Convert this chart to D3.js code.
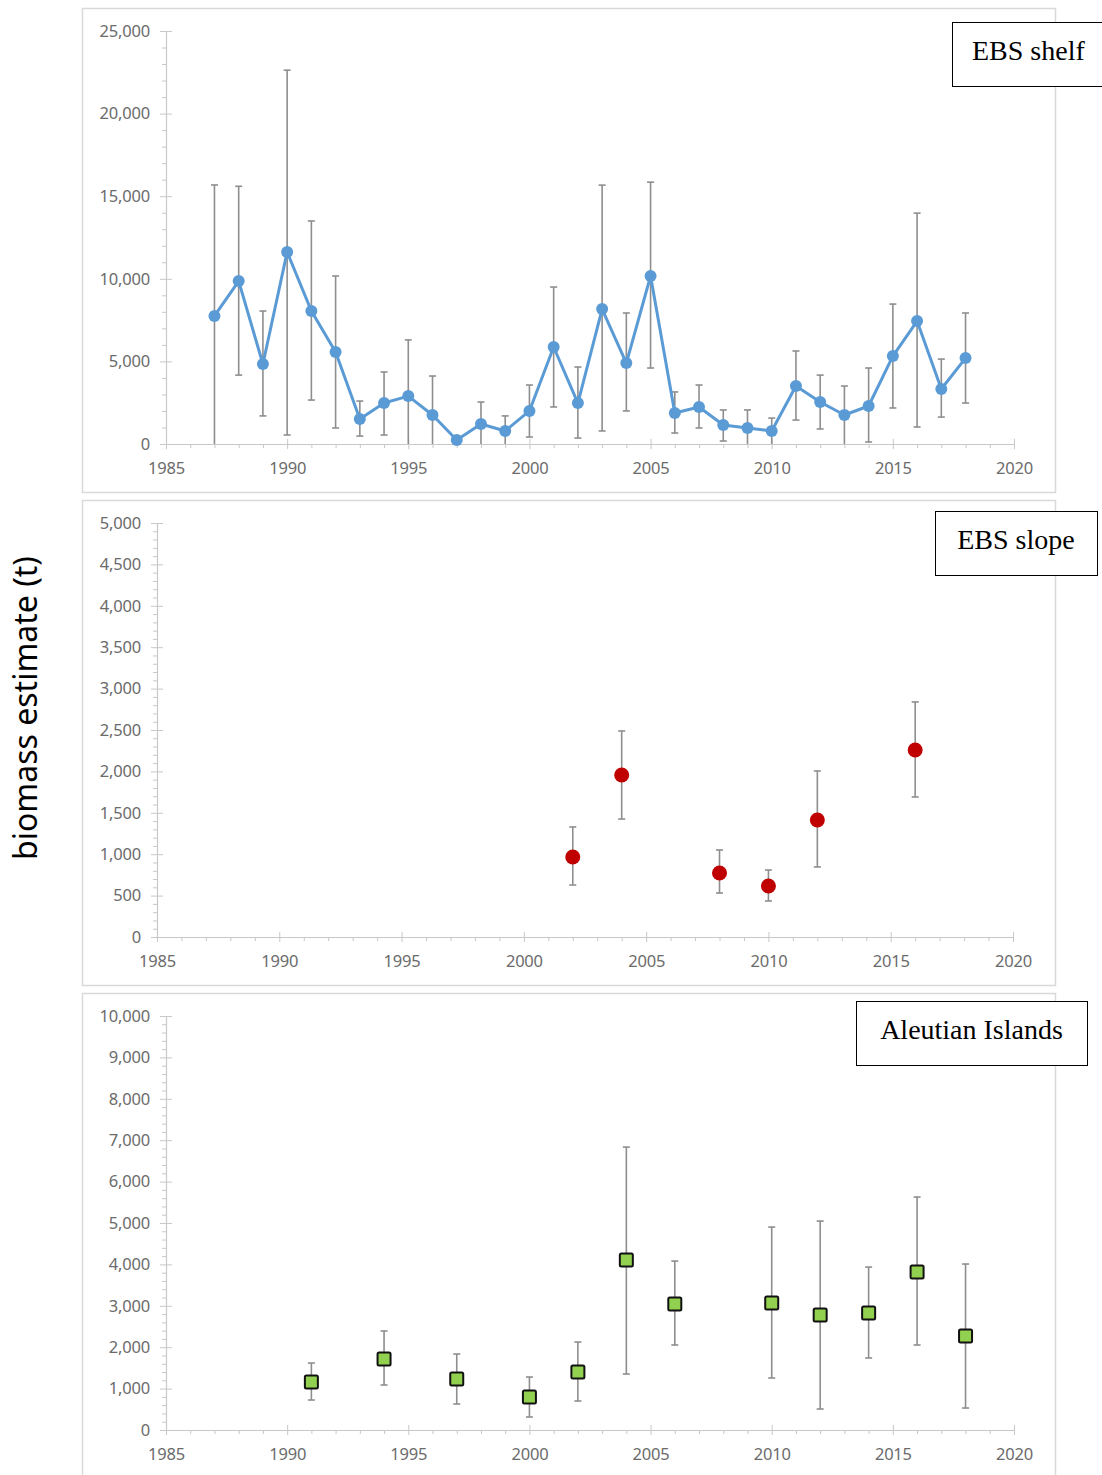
<!DOCTYPE html>
<html>
<head>
<meta charset="utf-8">
<script src="https://cdn.jsdelivr.net/npm/d3@7"></script>
<style>
  body { margin: 0; background: #fff; }
  svg { display: block; }
</style>
</head>
<body>
<div id="chart"></div>
<script>
'use strict'

// ---------- data ----------
const shelfYears = [1987, 1988, 1989, 1990, 1991, 1992, 1993, 1994, 1995, 1996, 1997, 1998, 1999, 2000, 2001, 2002,
    2003, 2004, 2005, 2006, 2007, 2008, 2009, 2010, 2011, 2012, 2013, 2014, 2015, 2016, 2017, 2018]
const shelfBiomass = [7750, 9860, 4840, 11620, 8050, 5570, 1510, 2480, 2900, 1755, 240, 1210, 790, 2000, 5870, 2480,
    8170, 4900, 10170, 1875, 2240, 1150, 970, 790, 3510, 2540, 1755, 2300, 5320, 7440, 3330, 5200]
const shelfLower = [0, 4170, 1700, 545, 2660, 970, 480, 545, 0, 0, 80, 0, 0, 420, 2240, 360,
    790, 2000, 4600, 665, 970, 180, 0, 0, 1450, 910, 0, 120, 2180, 1030, 1630, 2480]
const shelfUpper = [15680, 15600, 8050, 22630, 13500, 10170, 2600, 4360, 6300, 4115, 400, 2540, 1700, 3570, 9500, 4660,
    15670, 7930, 15850, 3150, 3570, 2060, 2060, 1570, 5630, 4170, 3510, 4600, 8470, 13975, 5140, 7930]

const slopeYears = [2002, 2004, 2008, 2010, 2012, 2016]
const slopeBiomass = [966, 1957, 773, 616, 1413, 2259]
const slopeLower = [628, 1425, 531, 435, 846, 1691]
const slopeUpper = [1329, 2488, 1051, 809, 2005, 2839]

const aiYears = [1991, 1994, 1997, 2000, 2002, 2004, 2006, 2010, 2012, 2014, 2016, 2018]
const aiBiomass = [1159, 1715, 1232, 797, 1400, 4105, 3043, 3067, 2777, 2825, 3816, 2270]
const aiLower = [724, 1087, 628, 314, 700, 1352, 2053, 1256, 507, 1739, 2053, 531]
const aiUpper = [1618, 2391, 1835, 1280, 2125, 6834, 4081, 4902, 5047, 3936, 5627, 4009]

const yearTicks = [1985, 1990, 1995, 2000, 2005, 2010, 2015, 2020]
const shelfTicks = [0, 5000, 10000, 15000, 20000, 25000]
const slopeTicks = [0, 500, 1000, 1500, 2000, 2500, 3000, 3500, 4000, 4500, 5000]
const aiTicks = [0, 1000, 2000, 3000, 4000, 5000, 6000, 7000, 8000, 9000, 10000]

const yTitle = 'biomass estimate (t)'

// ---------- layout ----------
const W = 1102, H = 1475
const fmt = d3.format(',')
const axisColor = '#c8c8c8'
const labelColor = '#6b6b6b'
const barColor = '#8e8e8e'
const tickFont = 'Noto Sans, sans-serif'

const panels = [
    { name: 'EBS shelf', years: shelfYears, val: shelfBiomass, lo: shelfLower, hi: shelfUpper,
      ticks: shelfTicks, minor: 1000, kind: 'line',
      frame: [82, 8, 973, 484], plot: { l: 166, r: 1014, t: 31, b: 444 },
      box: [952, 22, 160, 64] },
    { name: 'EBS slope', years: slopeYears, val: slopeBiomass, lo: slopeLower, hi: slopeUpper,
      ticks: slopeTicks, minor: 100, kind: 'dot',
      frame: [82, 500, 973, 485], plot: { l: 157, r: 1013, t: 523, b: 937 },
      box: [935, 511, 162, 64] },
    { name: 'Aleutian Islands', years: aiYears, val: aiBiomass, lo: aiLower, hi: aiUpper,
      ticks: aiTicks, minor: 200, kind: 'square',
      frame: [82, 993, 973, 490], plot: { l: 166, r: 1014, t: 1016, b: 1430 },
      box: [856, 1001, 231, 64] }
]

const svg = d3.select('#chart')
    .append('svg')
    .attr('width', W)
    .attr('height', H)

svg.append('rect')
    .attr('width', W)
    .attr('height', H)
    .attr('fill', '#ffffff')

panels.forEach(p => {
    const g = svg.append('g')

    // panel frame
    g.append('rect')
        .attr('x', p.frame[0] + 0.5)
        .attr('y', p.frame[1] + 0.5)
        .attr('width', p.frame[2])
        .attr('height', p.frame[3])
        .attr('fill', '#ffffff')
        .attr('stroke', '#d9d9d9')
        .attr('stroke-width', 1.5)

    const x = d3.scaleLinear().domain([1985, 2020]).range([p.plot.l, p.plot.r])
    const yMax = p.ticks[p.ticks.length - 1]
    const y = d3.scaleLinear().domain([0, yMax]).range([p.plot.b, p.plot.t])

    // minor ticks
    const yMinor = d3.range(0, yMax + 1, p.minor).filter(v => !p.ticks.includes(v))
    g.append('g')
        .attr('transform', `translate(${p.plot.l},0)`)
        .call(d3.axisLeft(y).tickValues(yMinor).tickSize(4).tickFormat(''))
        .call(a => a.select('.domain').remove())
        .selectAll('line').attr('stroke', axisColor)

    const xMinor = d3.range(1985, 2021).filter(v => !yearTicks.includes(v))
    g.append('g')
        .attr('transform', `translate(0,${p.plot.b})`)
        .call(d3.axisBottom(x).tickValues(xMinor).tickSize(4).tickFormat(''))
        .call(a => a.select('.domain').remove())
        .selectAll('line').attr('stroke', axisColor)

    // y axis
    const yAxis = g.append('g')
        .attr('transform', `translate(${p.plot.l},0)`)
        .call(d3.axisLeft(y).tickValues(p.ticks).tickSize(6).tickPadding(10).tickFormat(fmt))
    yAxis.select('.domain').attr('stroke', axisColor).attr('stroke-width', 1.2).attr('d', `M0.5,${p.plot.b}V${p.plot.t}`)
    yAxis.selectAll('.tick line').attr('stroke', axisColor).attr('x1', 6)
    yAxis.selectAll('text')
        .attr('fill', labelColor)
        .attr('font-family', tickFont)
        .attr('font-size', '16.5px')
        .attr('letter-spacing', '-0.2px')

    // x axis
    const xAxis = g.append('g')
        .attr('transform', `translate(0,${p.plot.b})`)
        .call(d3.axisBottom(x).tickValues(yearTicks).tickSize(5).tickPadding(13).tickFormat(d3.format('d')))
    xAxis.select('.domain').attr('stroke', axisColor).attr('stroke-width', 1.2).attr('d', `M${p.plot.l},0.5H${p.plot.r}`)
    xAxis.selectAll('.tick line').attr('stroke', axisColor).attr('y1', -5)
    xAxis.selectAll('text')
        .attr('fill', labelColor)
        .attr('font-family', tickFont)
        .attr('font-size', '16.5px')
        .attr('letter-spacing', '-0.2px')

    const rows = p.years.map((yr, i) => ({ yr, v: p.val[i], lo: p.lo[i], hi: p.hi[i] }))

    // error bars
    const eb = g.append('g')
        .attr('stroke', barColor)
        .attr('stroke-width', 1.6)
        .attr('fill', 'none')
    eb.selectAll('line.v')
        .data(rows)
        .join('line')
        .attr('class', 'v')
        .attr('x1', d => x(d.yr))
        .attr('x2', d => x(d.yr))
        .attr('y1', d => y(d.lo))
        .attr('y2', d => y(d.hi))
    eb.selectAll('line.hi')
        .data(rows)
        .join('line')
        .attr('class', 'hi')
        .attr('x1', d => x(d.yr) - 3.5)
        .attr('x2', d => x(d.yr) + 3.5)
        .attr('y1', d => y(d.hi))
        .attr('y2', d => y(d.hi))
    eb.selectAll('line.lo')
        .data(rows.filter(d => d.lo > 0))
        .join('line')
        .attr('class', 'lo')
        .attr('x1', d => x(d.yr) - 3.5)
        .attr('x2', d => x(d.yr) + 3.5)
        .attr('y1', d => y(d.lo))
        .attr('y2', d => y(d.lo))

    // marks
    if (p.kind === 'line') {
        g.append('path')
            .datum(rows)
            .attr('fill', 'none')
            .attr('stroke', '#5b9bd5')
            .attr('stroke-width', 3)
            .attr('stroke-linejoin', 'round')
            .attr('d', d3.line().x(d => x(d.yr)).y(d => y(d.v)))
        g.selectAll('circle.pt')
            .data(rows)
            .join('circle')
            .attr('class', 'pt')
            .attr('cx', d => x(d.yr))
            .attr('cy', d => y(d.v))
            .attr('r', 6)
            .attr('fill', '#5b9bd5')
    } else if (p.kind === 'dot') {
        g.selectAll('circle.pt')
            .data(rows)
            .join('circle')
            .attr('class', 'pt')
            .attr('cx', d => x(d.yr))
            .attr('cy', d => y(d.v))
            .attr('r', 7.5)
            .attr('fill', '#c00000')
    } else {
        const s = 13
        g.selectAll('rect.pt')
            .data(rows)
            .join('rect')
            .attr('class', 'pt')
            .attr('x', d => x(d.yr) - s / 2)
            .attr('y', d => y(d.v) - s / 2)
            .attr('width', s)
            .attr('height', s)
            .attr('rx', 1.5)
            .attr('fill', '#92d050')
            .attr('stroke', '#111111')
            .attr('stroke-width', 2)
    }

    // region label box
    g.append('rect')
        .attr('x', p.box[0] + 0.5)
        .attr('y', p.box[1] + 0.5)
        .attr('width', p.box[2])
        .attr('height', p.box[3])
        .attr('fill', '#ffffff')
        .attr('stroke', '#000000')
        .attr('stroke-width', 1)
    g.append('text')
        .attr('x', p.name === 'EBS shelf' ? p.box[0] + 20 : p.box[0] + p.box[2] / 2)
        .attr('y', p.box[1] + p.box[3] / 2 + 5.5)
        .attr('text-anchor', p.name === 'EBS shelf' ? 'start' : 'middle')
        .attr('font-family', 'Liberation Serif, Times New Roman, serif')
        .attr('font-size', '28px')
        .attr('fill', '#000000')
        .text(p.name)
})

// shared y axis title
svg.append('text')
    .attr('transform', 'translate(37,708) rotate(-90)')
    .attr('text-anchor', 'middle')
    .attr('font-family', 'Noto Sans, sans-serif')
    .attr('font-size', '32px')
    .attr('fill', '#000000')
    .text(yTitle)
</script>
</body>
</html>
